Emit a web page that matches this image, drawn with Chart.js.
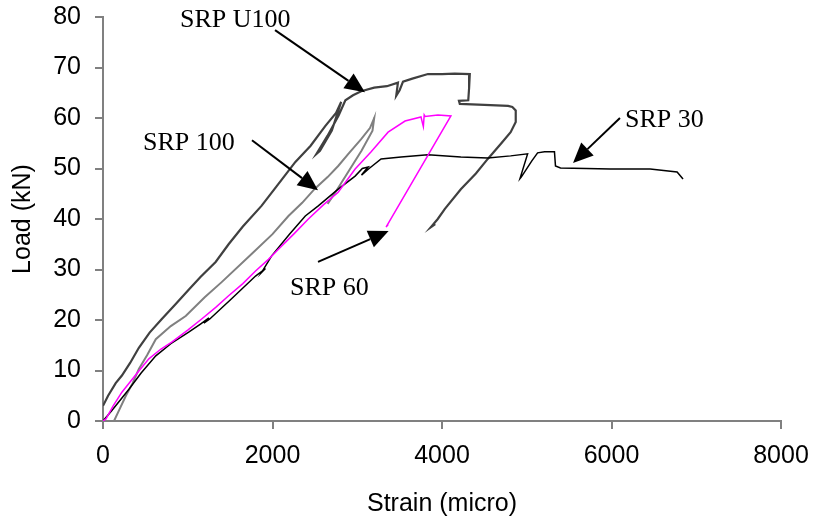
<!DOCTYPE html>
<html>
<head>
<meta charset="utf-8">
<script src="https://cdn.jsdelivr.net/npm/chart.js@4.4.1/dist/chart.umd.min.js"></script>
<style>
  html, body { margin: 0; padding: 0; background: #fff; }
  #wrap { width: 816px; height: 525px; }
</style>
</head>
<body>
<div id="wrap"><canvas id="chart" width="816" height="525"></canvas></div>
<script>
// strain (micro) / load (kN)
const srp60Strain = [0, 35, 120, 223, 380, 541, 680, 811, 1000, 1164, 1330, 1482, 1650, 1800, 1952, 2070, 2250, 2423, 2600, 2775, 2975, 3164, 3364, 3564, 3752, 3780, 3790, 3800, 3952, 4105, 3340, 3365];
const srp60Load = [0, 0.4, 3, 5.7, 9, 12.3, 14.2, 15.6, 18, 20.2, 22.5, 24.8, 27.2, 29.7, 32, 34, 37, 40, 42.8, 45.3, 49.9, 53.3, 57.2, 59.4, 60.2, 58.3, 60.6, 60.3, 60.6, 60.4, 38.4, 38.9];

const srp30Strain = [0, 100, 306, 450, 623, 800, 1011, 1150, 1250, 1190, 1260, 1517, 1800, 1917, 1870, 1990, 2200, 2387, 2540, 2775, 2975, 3060, 3128, 3050, 3140, 3281, 3517, 3834, 4222, 4540, 4810, 5010, 4920, 4935, 5060, 5128, 5210, 5327, 5339, 5398, 5700, 5986, 6456, 6774, 6844];
const srp30Load = [0, 2, 6.3, 9.5, 12.9, 15.3, 17.6, 19.2, 20.4, 19.4, 20.2, 24.2, 28.7, 30.2, 29.4, 32.7, 37, 40.6, 42.6, 45.9, 48.5, 50, 50.3, 48.7, 50, 51.9, 52.3, 52.7, 52.3, 52.1, 52.5, 52.9, 48, 48.3, 51.5, 53.1, 53.3, 53.3, 50.5, 50.1, 50, 49.9, 49.9, 49.3, 47.9];

const srp100Strain = [130, 200, 270, 350, 423, 520, 623, 800, 976, 1200, 1400, 1750, 2000, 2188, 2350, 2500, 2650, 2775, 2900, 3046, 3150, 3200, 3180, 3050, 2900, 2750, 2650];
const srp100Load = [0, 2.5, 5, 7.5, 10.3, 13, 16.2, 18.8, 20.8, 24.5, 27.5, 33, 37, 40.6, 43.2, 46, 48.3, 50.5, 53, 55.8, 58, 60, 57.5, 53.5, 49.5, 45.5, 43];

const u100Strain = [0, 60, 150, 223, 320, 423, 550, 694, 850, 1011, 1150, 1329, 1482, 1650, 1870, 2050, 2270, 2450, 2622, 2750, 2810, 2700, 2560, 2520, 2650, 2780, 2860, 2950, 3046, 3200, 3350, 3480, 3460, 3500, 3540, 3650, 3834, 4000, 4150, 4328, 4320, 4310, 4200, 4210, 4500, 4780, 4830, 4870, 4870, 4810, 4700, 4540, 4400, 4222, 4034, 3950, 3870, 3920];
const u100Load = [3, 5, 7.5, 9, 11.5, 14.5, 17.5, 20.2, 23, 26, 28.5, 31.5, 35, 38.5, 42.6, 46.5, 51.3, 54.5, 58.4, 61, 63.2, 57.5, 53.5, 52.9, 56.5, 60.5, 63.5, 64.5, 65.3, 66, 66.3, 67, 64.4, 65.5, 67.2, 67.8, 68.7, 68.7, 68.8, 68.7, 66, 63.5, 63.4, 62.8, 62.6, 62.4, 62.2, 61.5, 59.2, 57.2, 55, 51.9, 49, 45.9, 42, 40, 38.4, 39];

const xTicks = [0, 2000, 4000, 6000, 8000];
const yTicks = [0, 10, 20, 30, 40, 50, 60, 70, 80];

function pairs(xs, ys) {
    return xs.map((x, i) => ({ x: x, y: ys[i] }));
}

// arrow labels, anchored in data units
const notes = [
    { text: 'SRP U100', at: [909, 79.4], from: [2030, 77.4], to: [3091, 65.1] },
    { text: 'SRP 100', at: [472, 55], from: [1758, 55.6], to: [2537, 45.7] },
    { text: 'SRP 30', at: [6159, 59.6], from: [6100, 60], to: [5546, 51.1] },
    { text: 'SRP 60', at: [2206, 26.3], from: [2537, 31.5], to: [3370, 37.6] }
];

const arrowNotes = {
    id: 'arrowNotes',
    afterDraw(chart) {
        const ctx = chart.ctx;
        const xs = chart.scales.x, ys = chart.scales.y;
        ctx.save();
        ctx.fillStyle = '#000';
        ctx.strokeStyle = '#000';
        ctx.font = '26px "Liberation Serif", "Times New Roman", serif';
        ctx.textBaseline = 'middle';
        ctx.textAlign = 'left';
        notes.forEach(n => {
            ctx.fillText(n.text, xs.getPixelForValue(n.at[0]), ys.getPixelForValue(n.at[1]));
            const x1 = xs.getPixelForValue(n.from[0]), y1 = ys.getPixelForValue(n.from[1]);
            const x2 = xs.getPixelForValue(n.to[0]), y2 = ys.getPixelForValue(n.to[1]);
            const ang = Math.atan2(y2 - y1, x2 - x1);
            const headLen = 20, headW = 9;
            const bx = x2 - headLen * Math.cos(ang), by = y2 - headLen * Math.sin(ang);
            ctx.lineWidth = 2;
            ctx.beginPath();
            ctx.moveTo(x1, y1);
            ctx.lineTo(bx, by);
            ctx.stroke();
            ctx.beginPath();
            ctx.moveTo(x2, y2);
            ctx.lineTo(bx + headW * Math.sin(ang), by - headW * Math.cos(ang));
            ctx.lineTo(bx - headW * Math.sin(ang), by + headW * Math.cos(ang));
            ctx.closePath();
            ctx.fill();
        });
        ctx.restore();
    }
};

const tickFont = { family: '"Liberation Sans", Arial, sans-serif', size: 25 };

new Chart(document.getElementById('chart'), {
    type: 'scatter',
    data: {
        datasets: [
            { label: 'SRP 60', data: pairs(srp60Strain, srp60Load), borderColor: '#ff00ff', borderWidth: 1.5 },
            { label: 'SRP 30', data: pairs(srp30Strain, srp30Load), borderColor: '#000000', borderWidth: 1.5 },
            { label: 'SRP 100', data: pairs(srp100Strain, srp100Load), borderColor: '#808080', borderWidth: 2 },
            { label: 'SRP U100', data: pairs(u100Strain, u100Load), borderColor: '#404040', borderWidth: 2.2 }
        ].map(ds => Object.assign(ds, { showLine: true, pointRadius: 0, tension: 0, fill: false }))
    },
    options: {
        responsive: false,
        animation: false,
        layout: { padding: { top: 17, right: 35, left: 0, bottom: 0 } },
        plugins: { legend: { display: false }, tooltip: { enabled: false } },
        scales: {
            x: {
                type: 'linear', min: 0, max: 8000,
                afterBuildTicks: s => { s.ticks = xTicks.map(v => ({ value: v })); },
                afterFit: s => { s.height = 104; s.paddingLeft = 0; s.paddingRight = 0; },
                grid: { drawOnChartArea: false, color: '#808080', tickLength: 8, lineWidth: 2 },
                border: { color: '#808080', width: 2 },
                ticks: { color: '#000', font: tickFont, padding: 12, maxRotation: 0, callback: v => String(v) },
                title: { display: true, text: 'Strain (micro)', color: '#000', font: tickFont, padding: { top: 6, bottom: 6 } }
            },
            y: {
                type: 'linear', min: 0, max: 80,
                afterBuildTicks: s => { s.ticks = yTicks.map(v => ({ value: v })); },
                afterFit: s => { s.width = 103; s.paddingTop = 0; s.paddingBottom = 0; },
                grid: { drawOnChartArea: false, color: '#808080', tickLength: 8, lineWidth: 2 },
                border: { color: '#808080', width: 2 },
                ticks: { color: '#000', font: tickFont, padding: 14, callback: v => String(v) },
                title: { display: true, text: 'Load (kN)', color: '#000', font: tickFont, padding: { top: 8, bottom: 0 } }
            }
        }
    },
    plugins: [arrowNotes]
});
</script>
</body>
</html>
